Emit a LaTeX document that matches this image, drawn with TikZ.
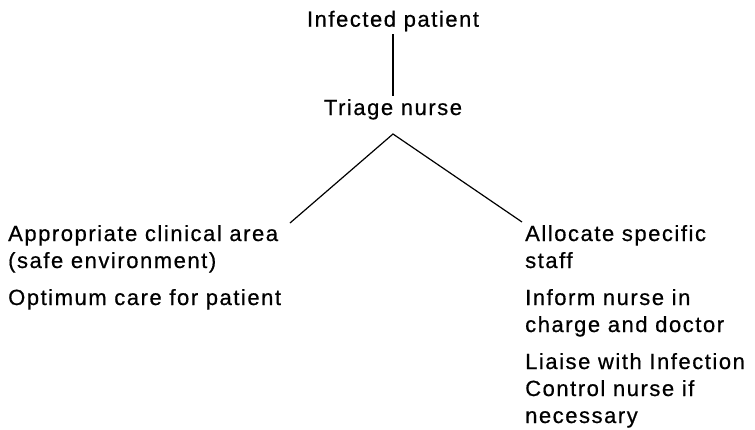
\documentclass[tikz,border=0pt]{standalone}
\usepackage{fontspec}
\setmainfont{Liberation Sans}[LetterSpace=7,FakeBold=0.6]
\begin{document}
\begin{tikzpicture}[x=1pt,y=-1pt,
  txt/.style={font=\fontsize{22}{27}\selectfont,align=left,inner sep=3pt},
  link/.style={line width=1.2pt}]
\useasboundingbox (0,0) rectangle (755,429);

\node[txt,anchor=base] (patient) at (393,26.7) {Infected patient};
\node[txt,anchor=base] (triage) at (393,115) {Triage nurse};
\draw[link] (patient.south) -- (triage.north);

% base anchor sits on the last line
\node[txt,anchor=base west,inner sep=0pt] (area) at (8,268) {Appropriate clinical area\\(safe environment)};
\node[txt,anchor=base west,inner sep=0pt] (care) at (8,305) {Optimum care for patient};

\node[txt,anchor=base west,inner sep=0pt] (staff) at (525,268) {Allocate specific\\staff};
\node[txt,anchor=base west,inner sep=0pt] (inform) at (525,332) {Inform nurse in\\charge and doctor};
\node[txt,anchor=base west,inner sep=0pt] (liaise) at (525,423) {Liaise with Infection\\Control nurse if\\necessary};

\coordinate (fork) at (393,134);
\coordinate (lend) at (290,223);
\coordinate (rend) at (522,222);
\draw[link] (lend) -- (fork) -- (rend);
\end{tikzpicture}
\end{document}
